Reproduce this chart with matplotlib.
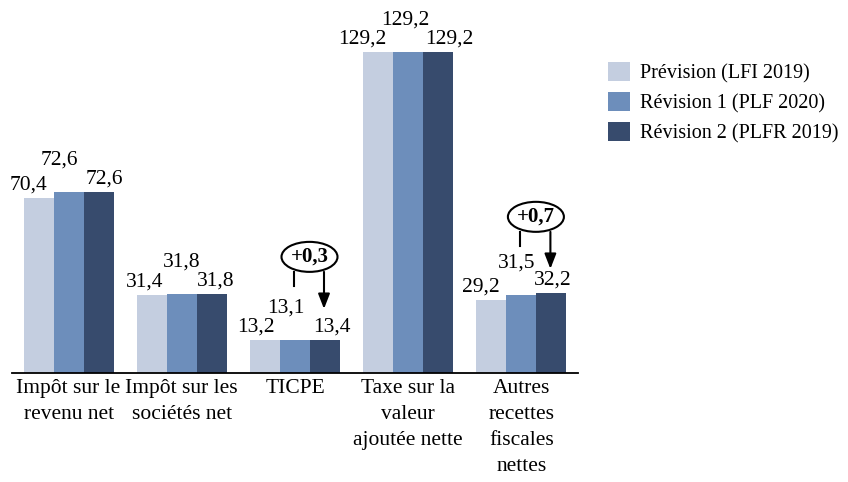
import matplotlib.pyplot as plt
import numpy as np
from matplotlib.patches import Ellipse

categories = ['Impôt sur le\nrevenu net', 'Impôt sur les\nsociétés net', 'TICPE',
              'Taxe sur la\nvaleur\najoutée nette', 'Autres\nrecettes\nfiscales\nnettes']
series_names = ['Prévision (LFI 2019)', 'Révision 1 (PLF 2020)', 'Révision 2 (PLFR 2019)']
prevision = [70.4, 31.4, 13.2, 129.2, 29.2]
revision1 = [72.6, 31.8, 13.1, 129.2, 31.5]
revision2 = [72.6, 31.8, 13.4, 129.2, 32.2]
colors = ['#c4cee0', '#6d8ebb', '#374b6d']
# écarts annotés (groupe, texte)
deltas = [(2, '+0,3'), (4, '+0,7')]

plt.rcParams['font.family'] = ['Liberation Serif', 'DejaVu Serif']
fs = 15.5

fig = plt.figure(figsize=(8.48, 4.82), dpi=100)
ax = fig.add_axes([12/848, 1 - 373/482, 566/848, 373/482])

px = 113.2          # pixels par groupe
py = 373/150        # pixels par unité
x = np.arange(len(categories))
w = 30/px
series = [prevision, revision1, revision2]
for i, (vals, c, name) in enumerate(zip(series, colors, series_names)):
    ax.bar(x + (i - 1)*w, vals, w, color=c, label=name)

# décalages horizontaux des étiquettes (en pixels), comme placés à la main dans l'original
dx = [[-10, -9, 6], [-7, 0, 4], [-9, -9, 7], [-16, -3, 11], [-11, -5, 1]]
fmt = lambda v: f'{v:.1f}'.replace('.', ',')
for g in range(len(categories)):
    for i in range(3):
        v = series[i][g]
        up = 32 if i == 1 else 13
        ax.text(x[g] + (i - 1)*w + dx[g][i]/px, v + up/py, fmt(v),
                ha='center', va='center', fontsize=fs)

# bulles d'écart
bulle_dy = {2: 33.3, 4: 30.6}
for g, txt in deltas:
    top = revision2[g]
    ey = top + bulle_dy[g]
    ex = x[g] + 14.5/px
    ax.add_patch(Ellipse((ex, ey), 56/px, 30/py, facecolor='white', edgecolor='black', lw=1.5, zorder=5))
    ax.text(ex, ey, txt, ha='center', va='center', fontsize=15, fontweight='bold', zorder=6)
    ax.plot([x[g] - 1/px, x[g] - 1/px], [ey - 15/py, ey - 29/py], color='black', lw=1.5)
    ax.annotate('', xy=(x[g] + w - 1/px, ey - 52/py), xytext=(x[g] + w - 1/px, ey - 15/py),
                arrowprops=dict(arrowstyle='-|>,head_width=0.35,head_length=0.9', color='black',
                                lw=1.5, shrinkA=0, shrinkB=0))

ax.set_xlim(-0.5, len(categories) - 0.5)
ax.set_ylim(0, 150)
ax.set_xticks(x)
ax.set_xticklabels(categories, fontsize=fs, linespacing=1.5)
ax.tick_params(axis='x', length=0, pad=4)
ax.set_yticks([])
for s in ['top', 'left', 'right']:
    ax.spines[s].set_visible(False)
ax.spines['bottom'].set_linewidth(1.3)

fig.legend(loc='upper left', bbox_to_anchor=(608/848, 1 - 62/482), frameon=False,
           fontsize=14.5, handlelength=1.1, handleheight=1.1, labelspacing=0.42,
           handletextpad=0.5, borderpad=0, borderaxespad=0)

fig.savefig('out.png', dpi=100)
